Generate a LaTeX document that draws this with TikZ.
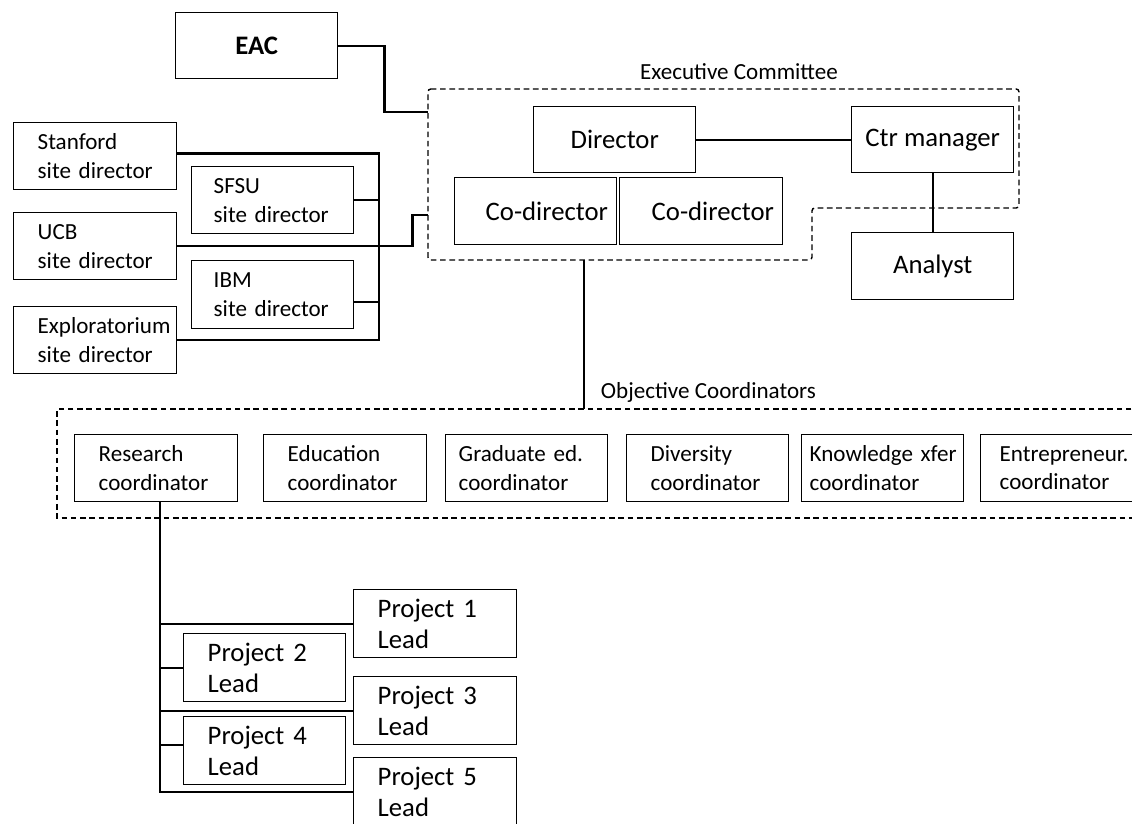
\documentclass[tikz,border=0pt]{standalone}
\usepackage{fontspec}
\setmainfont{Carlito}
\usetikzlibrary{calc}

% no hyphenation inside the boxes
\hyphenpenalty=10000
\exhyphenpenalty=10000
\hfuzz=200pt

\newcommand{\orgsmall}{\fontsize{16.4}{20.5}\selectfont}
\newcommand{\orgbig}{\fontsize{19}{22}\selectfont}

\tikzset{
  unit/.style 2 args={draw, line width=1pt, anchor=north west, minimum height=1.675cm,
    inner ysep=0pt, inner xsep=#1, text width=#2, align=left},
  head/.style={draw, line width=1pt, anchor=north west, minimum width=4.05cm,
    minimum height=1.65cm, inner sep=0pt, font=\orgbig},
  link/.style={line width=1.6pt},
  group/.style={line width=1pt, dash pattern=on 4pt off 2.6pt},
}

\begin{document}
\begin{tikzpicture}[x=0.025cm, y=-0.025cm, font=\orgsmall, text=black]
\useasboundingbox (0,0) rectangle (1132,823);
\clip (0,0) rectangle (1132,823);

% Advisory board
\node[head, font=\orgbig\bfseries] (EAC) at (175,12) {EAC};

% Executive Committee (dashed outline)
\draw[group, rounded corners=2pt] (428,89) -- (1019,89) -- (1019,208) -- (812,208)
    -- (812,260) -- (428,260) -- cycle;
\node (exec label) at (739,72) {Executive Committee};
\coordinate (exec eac) at (428,112);
\coordinate (exec site) at (428,215);
\coordinate (exec base) at (584,260);

\node[head] (director) at (533,106) {Director};
\node[unit={0.775cm}{2.5cm}, font=\orgbig] (codirA) at (454,177) {Co-director};
\node[unit={0.8cm}{2.475cm}, font=\orgbig] (codirB) at (619,177) {Co-director};
\node[head] (ctrmgr) at (851,106) {Ctr manager};
\node[head, minimum height=1.675cm] (analyst) at (851,232) {Analyst};

% Site directors
\node[unit={0.6cm}{2.875cm}] (stanford) at (13,122) {Stanford\\site~director};
\node[unit={0.55cm}{2.95cm}] (sfsu) at (191,166) {SFSU\\site~director};
\node[unit={0.6cm}{2.875cm}] (ucb) at (13,212) {UCB\\site~director};
\node[unit={0.55cm}{2.95cm}, minimum height=1.7cm] (ibm) at (191,260) {IBM\\site~director};
\node[unit={0.6cm}{2.875cm}] (explo) at (13,306) {Exploratorium\\site~director};

% Objective Coordinators (dashed band, open to the right)
\draw[group] (1150,409) -- (57,409) -- (57,518) -- (1150,518);
\node[anchor=west] (obj label) at (596,392) {Objective Coordinators};
\coordinate (obj top) at (584,409);

\node[unit={0.6cm}{2.875cm}] (research) at (74,434) {Research\\coordinator};
\node[unit={0.6cm}{2.875cm}] (education) at (263,434) {Education\\coordinator};
\node[unit={0.325cm}{3.4cm}] (graduate) at (445,434) {Graduate~ed.\\coordinator};
\node[unit={0.6cm}{2.85cm}] (diversity) at (626,434) {Diversity\\coordinator};
\node[unit={0.2cm}{3.65cm}] (knowledge) at (801,434) {Knowledge~xfer\\coordinator};
\node[unit={0.475cm}{3.125cm}] (entre) at (980,434) {Entrepreneur.\\coordinator};

% Project leads
\node[unit={0.6cm}{2.875cm}, font=\orgbig, minimum height=1.7cm] (P1) at (353,589) {Project~1\\Lead};
\node[unit={0.6cm}{2.85cm}, font=\orgbig, minimum height=1.7cm] (P2) at (183,633) {Project~2\\Lead};
\node[unit={0.6cm}{2.875cm}, font=\orgbig, minimum height=1.7cm] (P3) at (353,676) {Project~3\\Lead};
\node[unit={0.6cm}{2.85cm}, font=\orgbig, minimum height=1.7cm] (P4) at (183,716) {Project~4\\Lead};
\node[unit={0.6cm}{2.875cm}, font=\orgbig, minimum height=1.7cm] (P5) at (353,757) {Project~5\\Lead};

% Connectors
\draw[link] (EAC.east) -- ++(46,0) |- (exec eac);

\coordinate (bus) at (379,0);
\draw[link] ([yshift=2pt]stanford.east) -- ([yshift=2pt]stanford.east -| bus)
    -- (explo.east -| bus) -- (explo.east);
\draw[link] (sfsu.east) -- (sfsu.east -| bus);
\draw[link] ([yshift=-5pt]ibm.east) -- ([yshift=-5pt]ibm.east -| bus);
\draw[link] (ucb.east) -- ++(235,0) |- (exec site);

\draw[link] (director) -- (ctrmgr);
\draw[link] (ctrmgr) -- (analyst);
\draw[link] (exec base) -- (obj top);

\coordinate (rbus) at ($(research.south)+(4,0)$);
\draw[link] (rbus) -- (rbus |- P5.west) -- (P5.west);
\draw[link] (rbus |- P1.west) -- (P1.west);
\draw[link] (rbus |- P2.west) -- (P2.west);
\draw[link] (rbus |- P3.west) -- (P3.west);
\draw[link] ([yshift=4pt]rbus |- P4.west) -- ([yshift=4pt]P4.west);
\end{tikzpicture}
\end{document}
